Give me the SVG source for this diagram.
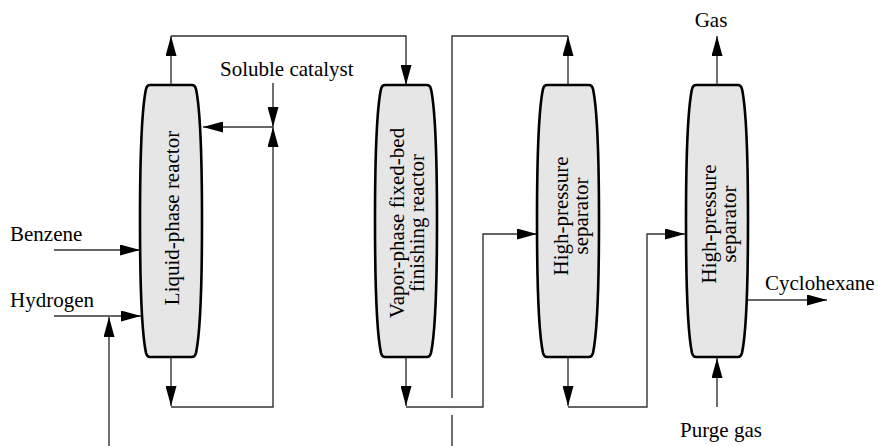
<svg xmlns="http://www.w3.org/2000/svg" width="878" height="446" viewBox="0 0 878 446">
<style>
.lbl{font-family:"Liberation Serif","Times New Roman",serif;font-size:21px;fill:#000}
.vessel{fill:#e6e6e6;stroke:#000;stroke-width:2.6;stroke-linejoin:round}
.flow{fill:none;stroke:#333;stroke-width:1.4}
.arr{marker-end:url(#ah)}
</style>
<defs>
<marker id="ah" markerUnits="userSpaceOnUse" markerWidth="20" markerHeight="11" refX="20" refY="5.5" orient="auto">
<path d="M0,0 L20,5.5 L0,11 Z" fill="#000"/>
</marker>
<path id="vsh" d="M-21,85 L21,85 Q24,85 25,89 C29,108 31,160 31,221 C31,282 29,334 25,353 Q24,357 21,357 L-21,357 Q-24,357 -25,353 C-29,334 -31,282 -31,221 C-31,160 -29,108 -25,89 Q-24,85 -21,85 Z"/>
</defs>
<g id="connectors">
<path class="flow arr" d="M171,85 V36"/>
<path class="flow arr" d="M171,36 H406 V85"/>
<path class="flow arr" d="M273,83 V127"/>
<path class="flow arr" d="M273,127 H203"/>
<path class="flow arr" d="M171,357 V406"/>
<path class="flow arr" d="M171,407 H273 V127"/>
<path class="flow arr" d="M54,250 H140"/>
<path class="flow arr" d="M54,316 H141"/>
<path class="flow arr" d="M109,446 V317"/>
<path class="flow arr" d="M406,357 V406"/>
<path class="flow arr" d="M406,407 H483 V234 H537"/>
<path class="flow arr" d="M568,85 V36"/>
<path class="flow" d="M568,36 H452 V398"/>
<path class="flow" d="M452,415 V446"/>
<path class="flow arr" d="M568,357 V406"/>
<path class="flow arr" d="M568,407 H647 V234 H685"/>
<path class="flow arr" d="M717,85 V36"/>
<path class="flow arr" d="M747,300 H827"/>
<path class="flow arr" d="M717,407 V358"/>
</g>
<g id="liquid-phase-reactor">
<use href="#vsh" class="vessel" x="171"/>
<text class="lbl" text-anchor="middle" transform="translate(179,218) rotate(-90)">Liquid-phase reactor</text>
</g>
<g id="vapor-phase-reactor">
<use href="#vsh" class="vessel" x="406"/>
<text class="lbl" text-anchor="middle" transform="translate(404,223) rotate(-90)">Vapor-phase fixed-bed</text>
<text class="lbl" text-anchor="middle" transform="translate(424,223) rotate(-90)">finishing reactor</text>
</g>
<g id="hp-separator-1">
<use href="#vsh" class="vessel" x="568"/>
<text class="lbl" text-anchor="middle" transform="translate(567.5,216) rotate(-90)">High-pressure</text>
<text class="lbl" text-anchor="middle" transform="translate(587.5,216) rotate(-90)">separator</text>
</g>
<g id="hp-separator-2">
<use href="#vsh" class="vessel" x="717"/>
<text class="lbl" text-anchor="middle" transform="translate(715.5,224) rotate(-90)">High-pressure</text>
<text class="lbl" text-anchor="middle" transform="translate(735.5,224) rotate(-90)">separator</text>
</g>
<g id="labels">
<text class="lbl" x="220" y="76">Soluble catalyst</text>
<text class="lbl" x="10" y="241">Benzene</text>
<text class="lbl" x="10" y="307">Hydrogen</text>
<text class="lbl" x="711" y="27" text-anchor="middle">Gas</text>
<text class="lbl" x="765" y="290">Cyclohexane</text>
<text class="lbl" x="721" y="437" text-anchor="middle">Purge gas</text>
</g>
</svg>
